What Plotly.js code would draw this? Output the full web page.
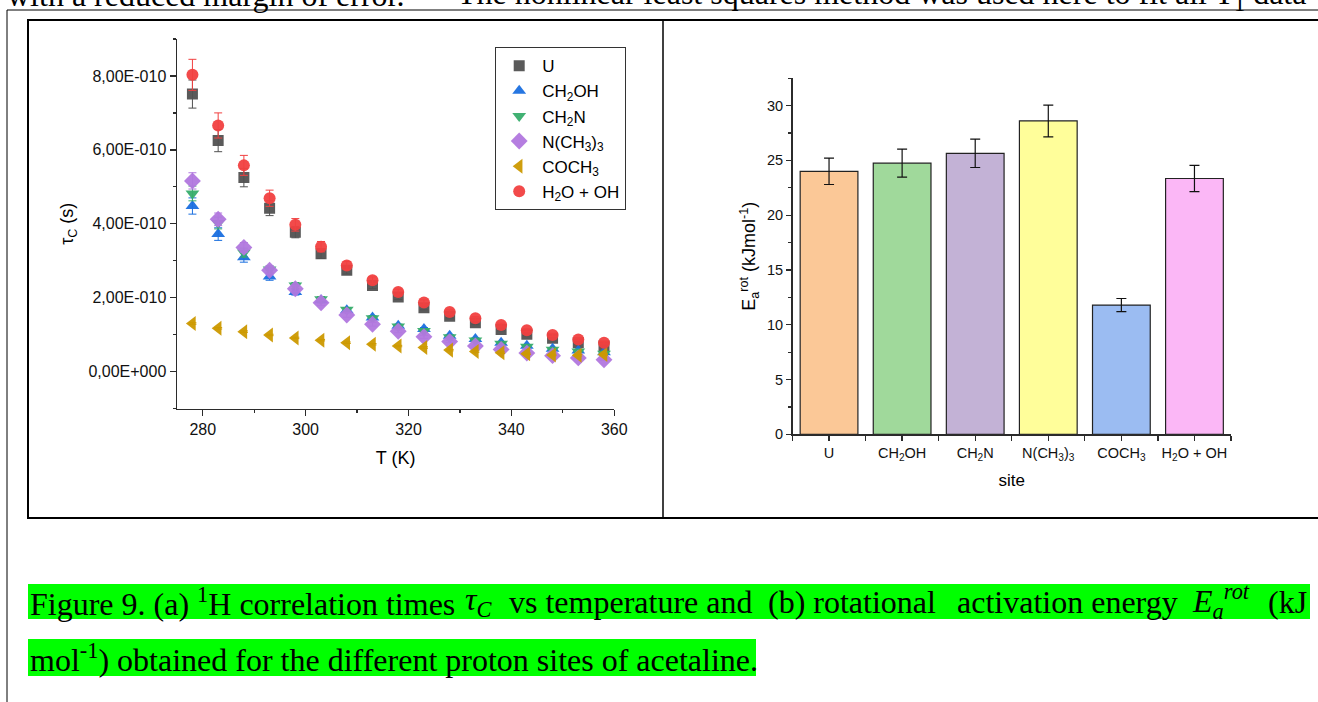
<!DOCTYPE html>
<html>
<head>
<meta charset="utf-8">
<script src="https://cdn.plot.ly/plotly-3.0.1.min.js"></script>
<style>
html,body{margin:0;padding:0;background:#fff;}
#chart{width:1318px;height:702px;}
</style>
</head>
<body>
<div id="chart"></div>
<script>
// ---------- Data (a): correlation times, in units of 1e-10 s ----------
const temperatureK = [278,283,288,293,298,303,308,313,318,323,328,333,338,343,348,353,358];
const tauU      = [7.51,6.25,5.25,4.42,3.77,3.19,2.74,2.33,2.02,1.73,1.50,1.32,1.14,1.01,0.90,0.78,0.69];
const tauCH2OH  = [4.48,3.72,3.09,2.57,2.15,1.93,1.66,1.46,1.24,1.15,0.97,0.88,0.78,0.70,0.62,0.57,0.52];
const tauCH2N   = [4.82,4.02,3.22,2.76,2.33,1.96,1.67,1.44,1.22,1.10,0.93,0.84,0.75,0.67,0.59,0.54,0.48];
const tauNMe3   = [5.16,4.12,3.36,2.74,2.24,1.86,1.53,1.28,1.09,0.94,0.81,0.69,0.60,0.50,0.43,0.37,0.32];
const tauCOCH3  = [1.30,1.17,1.08,0.99,0.91,0.85,0.78,0.74,0.69,0.65,0.58,0.54,0.51,0.48,0.45,0.44,0.46];
const tauH2OOH  = [8.03,6.66,5.58,4.69,3.97,3.38,2.87,2.47,2.15,1.87,1.61,1.44,1.26,1.12,0.99,0.87,0.78];
const errU      = [0.38,0.30,0.25,0.20,0.15,0.13,0.10,0.08,0.07,0.06,0.05,0.05,0.04,0.04,0.03,0.03,0.03];
const errCH2OH  = [0.22,0.17,0.13,0.10,0.08,0.07,0.06,0.05,0.04,0.04,0.03,0.03,0.03,0.02,0.02,0.02,0.02];
const errCH2N   = [0.20,0.16,0.12,0.10,0.08,0.07,0.06,0.05,0.04,0.04,0.03,0.03,0.03,0.02,0.02,0.02,0.02];
const errNMe3   = [0.22,0.17,0.13,0.10,0.08,0.07,0.06,0.05,0.04,0.04,0.03,0.03,0.03,0.02,0.02,0.02,0.02];
const errCOCH3  = [0.02,0.02,0.02,0.02,0.02,0.02,0.02,0.02,0.02,0.02,0.02,0.02,0.02,0.02,0.02,0.02,0.02];
const errH2OOH  = [0.42,0.34,0.27,0.22,0.17,0.14,0.11,0.09,0.08,0.07,0.06,0.05,0.05,0.04,0.04,0.03,0.03];
const seriesNames = ['U','CH<sub>2</sub>OH','CH<sub>2</sub>N','N(CH<sub>3</sub>)<sub>3</sub>','COCH<sub>3</sub>','H<sub>2</sub>O + OH'];
const tauTickVals   = [0,2,4,6,8];
const tauTickLabels = ['0,00E+000','2,00E-010','4,00E-010','6,00E-010','8,00E-010'];
const tauMinorVals  = [-1,1,3,5,7,9];

// ---------- Data (b): rotational activation energy ----------
const sites   = ['U','CH<sub>2</sub>OH','CH<sub>2</sub>N','N(CH<sub>3</sub>)<sub>3</sub>','COCH<sub>3</sub>','H<sub>2</sub>O + OH'];
const eaRot   = [24.0,24.75,25.65,28.6,11.8,23.35];
const eaErr   = [1.2,1.28,1.3,1.45,0.6,1.2];

// ---------- Styling ----------
const UNIT = 1e-10;
const W = 1318, H = 702;
const px = x => x / W;
const py = y => 1 - y / H;
const FONT = 'Arial, "Liberation Sans", sans-serif';
const SERIF = '"Times New Roman", "Liberation Serif", serif';
const AX = '#2b2b2b';
const CAP = 32;

const styles = [
  {symbol:'square',        size:11, color:'#515151'},
  {symbol:'triangle-up',   size:12, color:'#1A6FDF'},
  {symbol:'triangle-down', size:12, color:'#37AD6B'},
  {symbol:'diamond',       size:13, color:'#B177DE'},
  {symbol:'triangle-left', size:13, color:'#CC9900'},
  {symbol:'circle',        size:12, color:'#F14040'}
];
const tauSeries = [tauU,tauCH2OH,tauCH2N,tauNMe3,tauCOCH3,tauH2OOH];
const errSeries = [errU,errCH2OH,errCH2N,errNMe3,errCOCH3,errH2OOH];

const traces = tauSeries.map((vals,i) => ({
  type:'scatter', mode:'markers', name:seriesNames[i],
  x: temperatureK, y: vals.map(v => v*UNIT),
  marker:{symbol:styles[i].symbol, size:styles[i].size, color:styles[i].color, opacity:0.95, line:{width:0}},
  error_y:{type:'data', array: errSeries[i].map(v => v*UNIT), visible:true, color:styles[i].color, thickness:1, width:4},
  xaxis:'x', yaxis:'y'
}));

traces.push({
  type:'bar', x: sites.map((_,i)=>i), y: eaRot, width:0.79, showlegend:false,
  marker:{color:['#FBC897','#A0D99B','#C3B2D6','#FFFE9A','#9BBCF2','#FBB7F6'], line:{color:'#222', width:1.2}},
  error_y:{type:'data', array: eaErr, visible:true, color:'#111', thickness:1.2, width:5},
  xaxis:'x2', yaxis:'y2'
});

const axisCommon = {
  showline:true, linecolor:AX, linewidth:1.5, mirror:false,
  ticks:'outside', ticklen:6, tickwidth:1.3, tickcolor:AX,
  showgrid:false, zeroline:false, fixedrange:true
};

const capFont = {family:SERIF, size:CAP, color:'#000'};
const topFont = {family:SERIF, size:CAP, color:'#000'};
const capAnn = (x, text, anchor) => ({xref:'paper', yref:'paper', x:px(x), y:py(601.5), xanchor:anchor||'left', yanchor:'middle', showarrow:false, text:text, font:capFont});

const layout = {
  width:W, height:H, margin:{l:0,r:0,t:0,b:0},
  paper_bgcolor:'#ffffff', plot_bgcolor:'rgba(0,0,0,0)',
  font:{family:FONT, color:'#000'},
  showlegend:true,
  legend:{x:px(495), y:py(47), xanchor:'left', yanchor:'top', bgcolor:'#fff',
          bordercolor:'#333', borderwidth:1.2, font:{family:FONT, size:17, color:'#000'}, itemwidth:36},
  xaxis: Object.assign({}, axisCommon, {
    domain:[px(177), px(614.3)], range:[275,360], anchor:'y',
    tick0:280, dtick:20, tickfont:{size:16, family:FONT, color:'#111'},
    minor:{ticks:'outside', ticklen:3, tickwidth:1.2, tickcolor:AX, tick0:280, dtick:10},
    title:{text:'T (K)', font:{size:18, family:FONT, color:'#000'}, standoff:14}
  }),
  yaxis: Object.assign({}, axisCommon, {
    domain:[py(408.5), py(39)], range:[-1*UNIT, 9*UNIT], anchor:'x',
    tickmode:'array', tickvals: tauTickVals.map(v=>v*UNIT), ticktext: tauTickLabels,
    tickfont:{size:16, family:FONT, color:'#111'},
    minor:{ticks:'outside', ticklen:3, tickwidth:1.2, tickcolor:AX, tickmode:'array', tickvals: tauMinorVals.map(v=>v*UNIT)},
    title:{text:'τ<sub>C</sub> (s)', font:{size:18, family:FONT, color:'#000'}, standoff:10}
  }),
  xaxis2: Object.assign({}, axisCommon, {
    domain:[px(792.5), px(1231)], range:[-0.5,5.5], anchor:'y2',
    tickmode:'array', tickvals: sites.map((_,i)=>i), ticktext: sites,
    tickfont:{size:14.5, family:FONT, color:'#111'}, ticklen:5,
    minor:{ticks:'outside', ticklen:5, tickwidth:1.2, tickcolor:AX, tickmode:'array', tickvals: sites.map((_,i)=>i-0.5).concat([sites.length-0.5])},
    title:{text:'site', font:{size:17, family:FONT, color:'#000'}, standoff:12}
  }),
  yaxis2: Object.assign({}, axisCommon, {
    domain:[py(434.4), py(78.2)], range:[0,32.5], anchor:'x2',
    tick0:0, dtick:5, tickfont:{size:14.5, family:FONT, color:'#111'}, ticklen:5,
    minor:{ticks:'outside', ticklen:3, tickwidth:1.2, tickcolor:AX, tick0:0, dtick:2.5},
    title:{text:'E<sub>a</sub><sup>rot</sup> (kJmol<sup>-1</sup>)', font:{size:18, family:FONT, color:'#000'}, standoff:6}
  }),
  shapes:[
    // highlight bands behind caption
    {type:'rect', xref:'paper', yref:'paper', x0:px(28), x1:px(1310), y0:py(619), y1:py(584), fillcolor:'#00ff00', line:{width:0}, layer:'below'},
    {type:'rect', xref:'paper', yref:'paper', x0:px(28), x1:px(756), y0:py(676), y1:py(639), fillcolor:'#00ff00', line:{width:0}, layer:'below'},
    // page frame
    {type:'line', xref:'paper', yref:'paper', x0:px(7), x1:1, y0:py(10), y1:py(10), line:{color:'#000', width:1}},
    {type:'line', xref:'paper', yref:'paper', x0:px(7), x1:px(7), y0:py(10), y1:0, line:{color:'#000', width:1}},
    // table cells
    {type:'rect', xref:'paper', yref:'paper', x0:px(28), x1:px(1330), y0:py(518), y1:py(20), line:{color:'#000', width:2}},
    {type:'line', xref:'paper', yref:'paper', x0:px(663), x1:px(663), y0:py(518), y1:py(20), line:{color:'#000', width:1.5}}
  ],
  annotations:[
    // preceding paragraph line, cut off at the top edge
    {xref:'paper', yref:'paper', x:px(5), y:py(15), xanchor:'left', yanchor:'bottom', showarrow:false,
     text:'with a reduced margin of error.', font:topFont},
    {xref:'paper', yref:'paper', x:px(1308), y:py(18), xanchor:'right', yanchor:'bottom', showarrow:false,
     text:'The nonlinear least squares method was used here to fit all T<sub>1</sub> data', font:topFont},
    // caption line 1 (justified, placed in chunks)
    capAnn(28, 'Figure 9. (a) <sup>1</sup>H correlation times'),
    capAnn(463, '<i>τ<sub>C</sub></i>'),
    capAnn(507, 'vs temperature and'),
    capAnn(766, '(b) rotational'),
    capAnn(1180, 'activation energy', 'right'),
    capAnn(1190, '<i>E<sub>a</sub><sup>rot</sup></i>'),
    capAnn(1309, '(kJ', 'right'),
    // caption line 2
    {xref:'paper', yref:'paper', x:px(28), y:py(657.5), xanchor:'left', yanchor:'middle', showarrow:false,
     text:'mol<sup>-1</sup>) obtained for the different proton sites of acetaline.', font:capFont}
  ]
};

Plotly.newPlot('chart', traces, layout, {displayModeBar:false, staticPlot:true});
</script>
</body>
</html>
